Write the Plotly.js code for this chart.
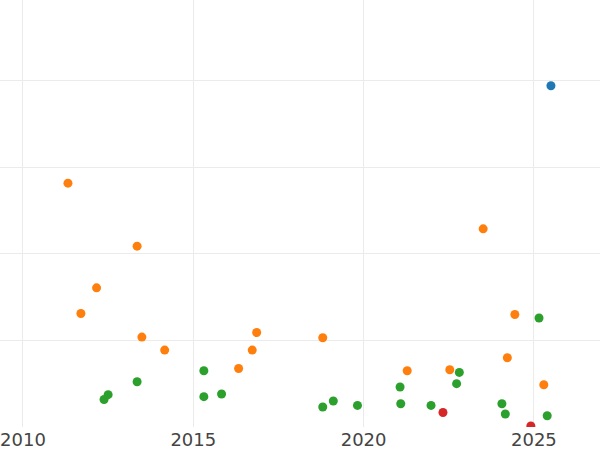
<!DOCTYPE html>
<html>
<head>
<meta charset="utf-8">
<script src="https://cdn.plot.ly/plotly-3.0.1.min.js"></script>
<style>html,body{margin:0;padding:0;background:#fff;}#chart{width:600px;height:450px;}</style>
</head>
<body>
<div id="chart"></div>
<script>
// Series values (x = year, y = value in arbitrary units)
const blueX = [2025.50];
const blueY = [3.94];

const orangeX = [2011.32, 2013.35, 2012.16, 2011.70, 2013.49, 2014.16, 2016.86, 2016.73, 2016.33, 2023.51, 2018.80, 2024.44, 2024.22, 2021.28, 2022.53, 2025.29];
const orangeY = [2.815, 2.088, 1.607, 1.311, 1.038, 0.888, 1.091, 0.888, 0.676, 2.288, 1.030, 1.299, 0.800, 0.650, 0.661, 0.488];

const greenX = [2015.31, 2013.35, 2012.50, 2012.38, 2015.31, 2015.83, 2025.15, 2022.81, 2022.73, 2021.07, 2018.80, 2019.11, 2019.82, 2021.09, 2021.98, 2024.06, 2024.16, 2025.39];
const greenY = [0.650, 0.523, 0.373, 0.318, 0.350, 0.381, 1.258, 0.630, 0.500, 0.462, 0.231, 0.300, 0.249, 0.269, 0.249, 0.269, 0.150, 0.130];

const redX = [2022.33, 2024.91];
const redY = [0.168, 0.012];

const xTickVals = [2010, 2015, 2020, 2025];
const xTickText = ['2010', '2015', '2020', '2025'];

function tr(x, y, color, name) {
  return {x: x, y: y, type: 'scatter', mode: 'markers', name: name,
          marker: {color: color, size: 9}, showlegend: false, hoverinfo: 'x+y'};
}

const data = [
  tr(blueX, blueY, '#1f77b4', 'blue'),
  tr(orangeX, orangeY, '#ff7f0e', 'orange'),
  tr(greenX, greenY, '#2ca02c', 'green'),
  tr(redX, redY, '#d62728', 'red')
];

const layout = {
  width: 600, height: 450,
  margin: {l: 0, r: 0, t: 0, b: 23, pad: 0},
  paper_bgcolor: '#ffffff', plot_bgcolor: '#ffffff',
  showlegend: false,
  xaxis: {
    range: [2009.325, 2026.94],
    tickvals: xTickVals, ticktext: xTickText,
    showgrid: true, gridcolor: '#ebebeb', gridwidth: 1,
    zeroline: false, showline: false, ticks: '',
    tickfont: {family: 'DejaVu Sans', size: 18, color: '#444'}
  },
  yaxis: {
    range: [0, 4.93], dtick: 1, tick0: 0,
    showgrid: true, gridcolor: '#ebebeb', gridwidth: 1,
    zeroline: false, showline: false, ticks: '',
    showticklabels: false
  }
};

Plotly.newPlot('chart', data, layout, {displayModeBar: false, staticPlot: true});
</script>
</body>
</html>
